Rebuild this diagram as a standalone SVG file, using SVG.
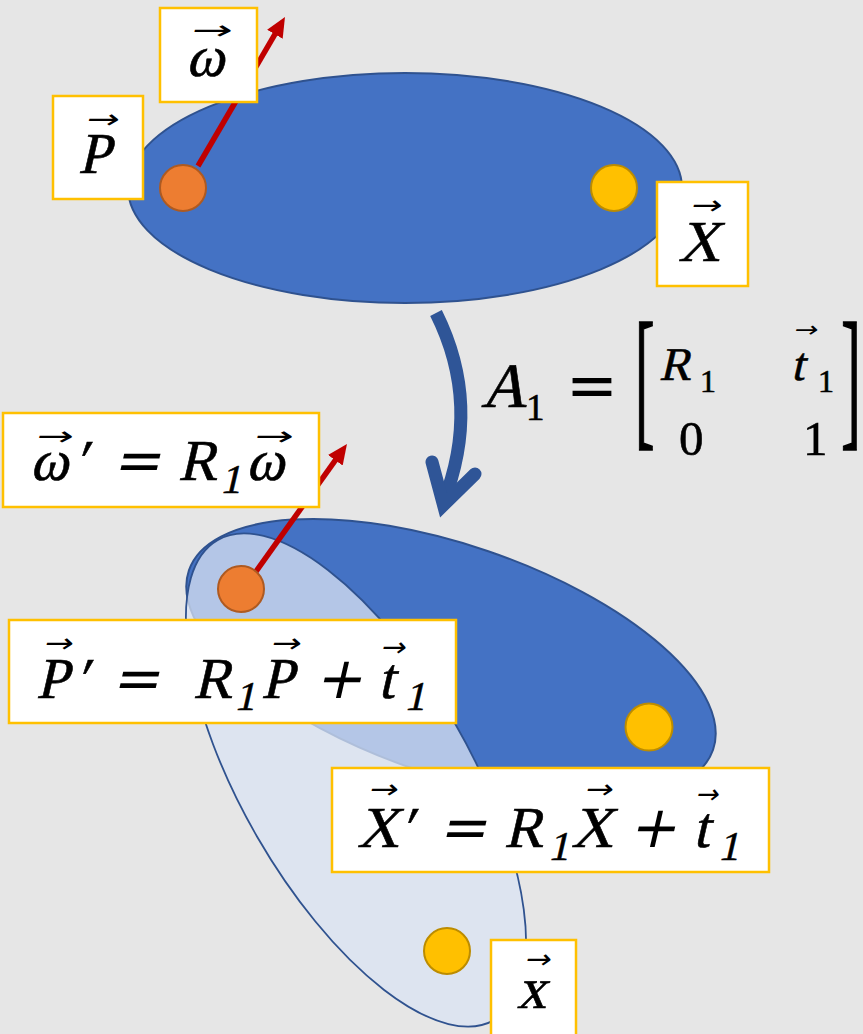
<svg xmlns="http://www.w3.org/2000/svg" width="863" height="1034" viewBox="0 0 863 1034">
<defs>
<style>
.bg{fill:#e6e6e6}
.body{fill:#4472c4;stroke:#2f528f;stroke-width:2}
.ghost{fill:#dae3f3;fill-opacity:0.75;stroke:#2f528f;stroke-width:1.8}
.pto{fill:#ed7d31;stroke:#ae5a21;stroke-width:2}
.pty{fill:#ffc000;stroke:#bc8c00;stroke-width:2}
.vec{stroke:#c00000;stroke-width:5.5;fill:none;marker-end:url(#redhead)}
.flow{fill:none;stroke:#2f5597;stroke-width:13}
.box{fill:#ffffff;stroke:#ffc000;stroke-width:2.5}
.sf{font-family:"Liberation Serif",serif;font-style:normal;fill:#000;stroke:#000;stroke-width:0.6}
.op{font-family:"DejaVu Sans",sans-serif;font-style:normal;fill:#000;stroke:none}
.acc{font-family:"DejaVu Sans",sans-serif;font-size:26px;fill:#000;stroke:none}
.acc2{font-family:"DejaVu Sans",sans-serif;font-size:22px;fill:#000;stroke:none}
.big{font-size:58px}
.sub{font-size:41px}
</style>
<marker id="redhead" markerUnits="userSpaceOnUse" viewBox="0 0 20 18" markerWidth="20" markerHeight="18" refX="2" refY="9" orient="auto">
<path d="M0,0 L20,9 L0,18 z" fill="#c00000"/>
</marker>
</defs>
<rect class="bg" x="0" y="0" width="863" height="1034"/>

<g id="body-original">
<ellipse class="body" cx="405" cy="188" rx="277" ry="115"/>
</g>
<g id="body-transformed">
<ellipse class="body" cx="451" cy="660" rx="277" ry="115" transform="rotate(18.9 451 660)"/>
</g>
<g id="body-ghost">
<ellipse class="ghost" cx="356" cy="780" rx="277" ry="114" transform="rotate(60 356 780)"/>
</g>

<g id="connectors">
<line class="vec" x1="198" y1="166" x2="275.9" y2="32.6"/>
<line class="vec" x1="247" y1="584" x2="336.5" y2="458.7"/>
<path class="flow" d="M436,313 Q482,405 443,503"/>
<path class="flow" d="M432,462 L443.5,505 L475,474" stroke-linecap="round" stroke-linejoin="miter"/>
</g>

<g id="point-P"><circle class="pto" cx="183" cy="188" r="23"/></g>
<g id="point-X"><circle class="pty" cx="614" cy="188" r="23"/></g>
<g id="point-P-prime"><circle class="pto" cx="241" cy="589" r="23"/></g>
<g id="point-X-prime"><circle class="pty" cx="649" cy="727" r="23.5"/></g>
<g id="point-x"><circle class="pty" cx="447" cy="951" r="23"/></g>

<g id="label-omega">
<rect class="box" x="160" y="8" width="97" height="94"/>
<text class="sf big" transform="translate(0 76) skewX(-13)"><tspan class="acc" x="181.5" y="-37" textLength="41" lengthAdjust="spacingAndGlyphs">→</tspan><tspan x="186" y="0">ω</tspan></text>
</g>

<g id="label-P">
<rect class="box" x="53" y="96" width="90" height="103"/>
<text class="sf big" transform="translate(0 173) skewX(-13)"><tspan class="acc" x="74.6" y="-45" textLength="33" lengthAdjust="spacingAndGlyphs">→</tspan><tspan x="78" y="0">P</tspan></text>
</g>

<g id="label-X">
<rect class="box" x="657" y="182" width="91" height="104"/>
<text class="sf big" transform="translate(0 261) skewX(-13)"><tspan class="acc" x="679" y="-47" textLength="31" lengthAdjust="spacingAndGlyphs">→</tspan><tspan x="678" y="0">X</tspan></text>
</g>

<g id="label-A1">
<text class="sf" font-size="63" transform="translate(481 407) skewX(-13)">A</text>
<text class="sf" font-size="37" x="526" y="420">1</text>
<text class="op" font-size="62" x="566" y="407">=</text>
<text class="sf" font-size="60" transform="translate(634.7 429) scale(1 2.57)">[</text>
<text class="sf" font-size="60" transform="translate(841 429) scale(1 2.57)">]</text>
<text class="sf" font-size="47" transform="translate(659 380) skewX(-13)">R</text>
<text class="sf" font-size="32" x="700" y="392">1</text>
<text class="sf" font-size="47" transform="translate(0 380) skewX(-13)"><tspan class="acc2" x="783" y="-43" textLength="24" lengthAdjust="spacingAndGlyphs">→</tspan><tspan x="791" y="0">t</tspan></text>
<text class="sf" font-size="32" x="818" y="392">1</text>
<text class="sf" font-size="49" x="679" y="455">0</text>
<text class="sf" font-size="49" x="803" y="455">1</text>
</g>

<g id="label-omega-prime">
<rect class="box" x="3" y="413" width="316" height="94"/>
<text class="sf big" transform="translate(0 480) skewX(-13)"><tspan class="acc" x="26.9" y="-35" textLength="37" lengthAdjust="spacingAndGlyphs">→</tspan><tspan x="30" y="0">ω</tspan><tspan x="74">′</tspan><tspan class="op" x="112">=</tspan><tspan x="178">R</tspan><tspan class="sub" x="223" y="13">1</tspan><tspan class="acc" x="244.9" y="-35" textLength="39" lengthAdjust="spacingAndGlyphs">→</tspan><tspan x="246" y="0">ω</tspan></text>
</g>

<g id="label-P-prime">
<rect class="box" x="9" y="620" width="447" height="103"/>
<text class="sf big" transform="translate(0 698) skewX(-13)"><tspan class="acc" x="32.4" y="-46" textLength="29" lengthAdjust="spacingAndGlyphs">→</tspan><tspan x="36" y="0">P</tspan><tspan x="75">′</tspan><tspan class="op" x="111">=</tspan><tspan x="193">R</tspan><tspan class="sub" x="237" y="12">1</tspan><tspan class="acc" x="259.4" y="-46" textLength="30" lengthAdjust="spacingAndGlyphs">→</tspan><tspan x="261" y="0">P</tspan><tspan class="op" x="314">+</tspan><tspan class="acc" x="370.3" y="-42" textLength="25" lengthAdjust="spacingAndGlyphs">→</tspan><tspan x="378" y="0">t</tspan><tspan class="sub" x="407" y="12">1</tspan></text>
</g>

<g id="label-X-prime">
<rect class="box" x="332" y="768" width="437" height="104"/>
<text class="sf big" transform="translate(0 847) skewX(-13)"><tspan class="acc" x="356.7" y="-49" textLength="29" lengthAdjust="spacingAndGlyphs">→</tspan><tspan x="357" y="0">X</tspan><tspan x="400">′</tspan><tspan class="op" x="438">=</tspan><tspan x="504">R</tspan><tspan class="sub" x="551" y="13">1</tspan><tspan class="acc" x="572.7" y="-49" textLength="28" lengthAdjust="spacingAndGlyphs">→</tspan><tspan x="571" y="0">X</tspan><tspan class="op" x="628">+</tspan><tspan class="acc" x="684.8" y="-44" textLength="23" lengthAdjust="spacingAndGlyphs">→</tspan><tspan x="693" y="0">t</tspan><tspan class="sub" x="721" y="13">1</tspan></text>
</g>

<g id="label-x">
<rect class="box" x="491" y="940" width="85" height="100"/>
<text class="sf big" transform="translate(0 1008) skewX(-13)"><tspan class="acc" x="514.8" y="-40" textLength="26" lengthAdjust="spacingAndGlyphs">→</tspan><tspan x="517" y="0">x</tspan></text>
</g>
</svg>
